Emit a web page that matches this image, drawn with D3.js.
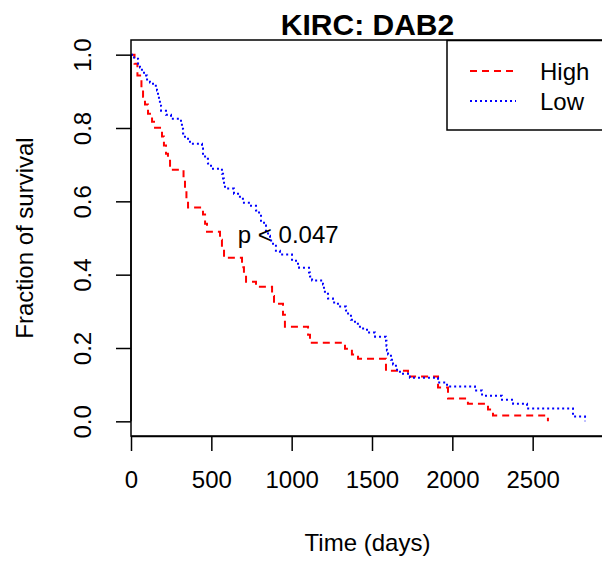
<!DOCTYPE html>
<html>
<head>
<meta charset="utf-8">
<script src="https://cdn.jsdelivr.net/npm/d3@7"></script>
<style>
  html, body { margin: 0; padding: 0; background: #ffffff; }
  svg { display: block; }
  text { font-family: "Liberation Sans", Arial, Helvetica, sans-serif; fill: #000; }
</style>
</head>
<body>
<div id="chart"></div>
<script>
// ---- Data (Kaplan-Meier step points) ----
const title = "KIRC: DAB2";
const xLabel = "Time (days)";
const yLabel = "Fraction of survival";
const pText = "p < 0.047";
const seriesNames = ["High", "Low"];
const xTicks = [0, 500, 1000, 1500, 2000, 2500];
const yTicks = [0.0, 0.2, 0.4, 0.6, 0.8, 1.0];

const highTimes = [0, 22, 40, 65, 75, 87, 106, 131, 143, 193, 205, 218, 230, 243, 327, 336, 345, 355,
  448, 461, 473, 554, 566, 579, 691, 703, 716, 778, 878, 890, 946, 958, 1102, 1114, 1332, 1375, 1413,
  1587, 1724, 1911, 1973, 2097, 2222, 2253, 2595];
const highSurv = [1.000, 0.975, 0.943, 0.910, 0.885, 0.864, 0.839, 0.817, 0.801, 0.777, 0.752, 0.730, 0.711, 0.686,
  0.659, 0.632, 0.607, 0.583, 0.564, 0.539, 0.517, 0.495, 0.469, 0.446, 0.420, 0.400, 0.381, 0.367, 0.342, 0.321,
  0.291, 0.258, 0.236, 0.214, 0.198, 0.182, 0.171, 0.138, 0.122, 0.092, 0.062, 0.048, 0.032, 0.016, 0.000];

const lowTimes = [0, 19, 44, 56, 68, 81, 100, 118, 137, 162, 168, 174, 180, 187, 218, 249, 311, 317, 324, 336,
  367, 442, 448, 461, 479, 498, 566, 573, 579, 585, 641, 678, 703, 747, 778, 797, 809, 828, 840, 853, 865, 884,
  902, 927, 1002, 1027, 1046, 1108, 1114, 1127, 1195, 1201, 1207, 1226, 1257, 1288, 1338, 1351, 1369, 1394,
  1425, 1469, 1519, 1587, 1590, 1593, 1600, 1618, 1631, 1649, 1674, 1736, 1911, 1967, 2141, 2185, 2309, 2378,
  2465, 2751, 2826];
const lowSurv = [1.000, 0.989, 0.975, 0.965, 0.954, 0.943, 0.932, 0.924, 0.915, 0.902, 0.888, 0.875, 0.861, 0.847,
  0.836, 0.825, 0.812, 0.798, 0.785, 0.771, 0.757, 0.744, 0.730, 0.716, 0.703, 0.689, 0.675, 0.662, 0.648, 0.635,
  0.621, 0.607, 0.596, 0.588, 0.575, 0.561, 0.547, 0.534, 0.520, 0.506, 0.493, 0.479, 0.465, 0.455, 0.441, 0.430,
  0.419, 0.406, 0.395, 0.384, 0.373, 0.359, 0.348, 0.335, 0.324, 0.313, 0.302, 0.291, 0.277, 0.266, 0.253, 0.242,
  0.231, 0.220, 0.206, 0.193, 0.182, 0.168, 0.155, 0.141, 0.130, 0.119, 0.106, 0.095, 0.084, 0.070, 0.059, 0.048,
  0.035, 0.013, 0.000];

const seriesColors = ["#ff0000", "#0000ff"];
const seriesDash = ["7,5", "2,3"];

// ---- Layout ----
const W = 602, H = 561;
const plot = { left: 131, right: 604, top: 40, bottom: 436 };

const svg = d3.select("#chart").append("svg").attr("width", W).attr("height", H);

const x = d3.scaleLinear().domain([0, 2944]).range([plot.left, plot.right]);
const y = d3.scaleLinear().domain([-0.04, 1.04]).range([plot.bottom, plot.top]);

// clip
svg.append("clipPath").attr("id", "clip").append("rect")
  .attr("x", plot.left).attr("y", plot.top)
  .attr("width", plot.right - plot.left).attr("height", plot.bottom - plot.top);

const series = [
  { name: seriesNames[0], pts: highTimes.map((t, i) => [t, highSurv[i]]) },
  { name: seriesNames[1], pts: lowTimes.map((t, i) => [t, lowSurv[i]]) }
];

const line = d3.line().x(d => x(d[0])).y(d => y(d[1])).curve(d3.curveStepAfter);

const g = svg.append("g").attr("clip-path", "url(#clip)");
series.forEach((s, i) => {
  g.append("path").datum(s.pts)
    .attr("d", line)
    .attr("fill", "none")
    .attr("stroke", seriesColors[i])
    .attr("stroke-width", 2)
    .attr("stroke-dasharray", seriesDash[i]);
});

// box
svg.append("rect")
  .attr("x", plot.left).attr("y", plot.top)
  .attr("width", plot.right - plot.left).attr("height", plot.bottom - plot.top)
  .attr("fill", "none").attr("stroke", "#000").attr("stroke-width", 1.5);

// x axis
const xAxis = d3.axisBottom(x).tickValues(xTicks).tickFormat(d3.format("d")).tickSizeInner(15).tickSizeOuter(0).tickPadding(36);
const gx = svg.append("g").attr("transform", `translate(0,${plot.bottom})`).call(xAxis);
gx.select(".domain").attr("stroke", "#000").attr("stroke-width", 1.5);
gx.selectAll(".tick line").attr("stroke", "#000").attr("stroke-width", 1.5);
gx.selectAll(".tick text").attr("font-size", 24).attr("dy", null).attr("y", 52)
  .style("font-family", "'Liberation Sans', Arial, sans-serif");

// y axis
const yAxis = d3.axisLeft(y).tickValues(yTicks).tickFormat(d3.format(".1f")).tickSizeInner(15).tickSizeOuter(0);
const gy = svg.append("g").attr("transform", `translate(${plot.left},0)`).call(yAxis);
gy.select(".domain").attr("stroke", "#000").attr("stroke-width", 1.5)
  .attr("d", `M0,${y(0)}V${y(1)}`);
gy.selectAll(".tick line").attr("stroke", "#000").attr("stroke-width", 1.5);
gy.selectAll(".tick text")
  .attr("font-size", 24)
  .attr("x", null).attr("dy", null)
  .attr("text-anchor", "middle")
  .attr("transform", "translate(-40,0) rotate(-90)")
  .style("font-family", "'Liberation Sans', Arial, sans-serif");

// title
svg.append("text").attr("x", (plot.left + plot.right) / 2).attr("y", 35)
  .attr("text-anchor", "middle").attr("font-size", 30).attr("font-weight", "bold").text(title);

// axis labels
svg.append("text").attr("x", (plot.left + plot.right) / 2).attr("y", 551)
  .attr("text-anchor", "middle").attr("font-size", 24).text(xLabel);
svg.append("text").attr("transform", `translate(33,${(plot.top + plot.bottom) / 2}) rotate(-90)`)
  .attr("text-anchor", "middle").attr("font-size", 24).text(yLabel);

// p value
svg.append("text").attr("x", x(665)).attr("y", 243)
  .attr("font-size", 24).text(pText);

// legend
const lg = svg.append("g");
lg.append("rect").attr("x", 447).attr("y", 40.5).attr("width", 170).attr("height", 89.5)
  .attr("fill", "#fff").attr("stroke", "#000").attr("stroke-width", 1.5);
seriesNames.forEach((n, i) => {
  const ly = 71 + i * 30;
  lg.append("line").attr("x1", 470).attr("x2", 516).attr("y1", ly).attr("y2", ly)
    .attr("stroke", seriesColors[i]).attr("stroke-width", 2).attr("stroke-dasharray", seriesDash[i]);
  lg.append("text").attr("x", 540).attr("y", ly + 9).attr("font-size", 24).text(n);
});
</script>
</body>
</html>
